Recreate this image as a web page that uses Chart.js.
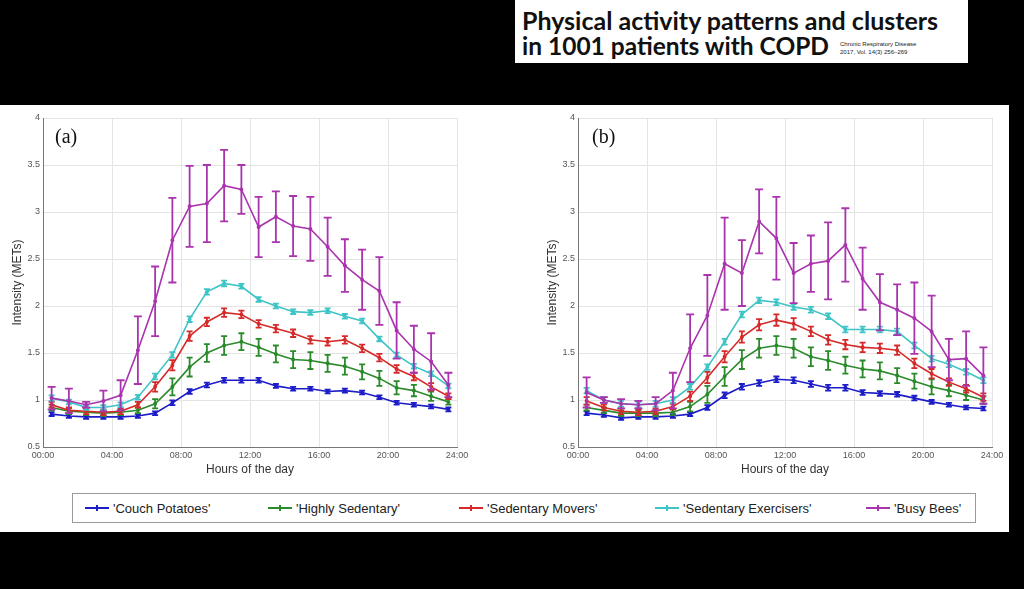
<!DOCTYPE html>
<html><head><meta charset="utf-8">
<script src="https://cdn.jsdelivr.net/npm/chart.js@4.4.1/dist/chart.umd.min.js"></script>
<style>
html,body{margin:0;padding:0;background:#000;width:1024px;height:589px;overflow:hidden;}
#titlebox{position:absolute;left:515px;top:0;width:453px;height:63px;background:#fff;}
#t1,#t2{position:absolute;left:7px;font-family:Lato,"Open Sans",sans-serif;font-weight:700;color:#111;white-space:nowrap;}
#t1{top:5px;font-size:25px;} #t2{top:31px;font-size:24.5px;}
#t3{position:absolute;left:325px;top:40px;font-family:"Liberation Sans",sans-serif;font-size:6px;line-height:8px;color:#222;white-space:nowrap;}
#panel{position:absolute;left:0;top:105px;width:1009px;height:427px;background:#fff;}
canvas{position:absolute;}
.plab{position:absolute;font-family:"Liberation Serif",serif;font-size:20px;color:#111;}
#legend{position:absolute;left:72px;top:388px;width:904px;height:30px;border:1px solid #9a9a9a;box-sizing:border-box;}
.li{position:absolute;top:7px;font-family:"Liberation Sans Narrow","Liberation Sans",sans-serif;font-size:13px;color:#222;white-space:nowrap;}
.ls{position:absolute;top:13px;width:24px;height:2px;}
.lt{position:absolute;top:-2px;left:11px;width:2px;height:6px;}
</style></head>
<body>
<div id="titlebox">
  <div id="t1">Physical activity patterns and clusters</div>
  <div id="t2">in 1001 patients with COPD</div>
  <div id="t3">Chronic Respiratory Disease<br>2017, Vol. 14(3) 256–269</div>
</div>
<div id="panel">
  <canvas id="ca" width="505" height="375" style="left:0;top:0;width:505px;height:375px"></canvas>
  <canvas id="cb" width="474" height="375" style="left:535px;top:0;width:474px;height:375px"></canvas>
  <div class="plab" style="left:55px;top:20px">(a)</div>
  <div class="plab" style="left:592px;top:20px">(b)</div>
  <div id="legend"></div>
</div>
<script>
// x positions (hours, mid-hour bins)
const hours = [0.5,1.5,2.5,3.5,4.5,5.5,6.5,7.5,8.5,9.5,10.5,11.5,12.5,13.5,14.5,15.5,16.5,17.5,18.5,19.5,20.5,21.5,22.5,23.5];
const xTickValues = [0,4,8,12,16,20,24];
const xTickLabels = ['00:00','04:00','08:00','12:00','16:00','20:00','24:00'];
const yTickValues = [0.5,1,1.5,2,2.5,3,3.5,4];
const yTickLabels = ['0.5','1','1.5','2','2.5','3','3.5','4'];
const seriesNames = ["'Couch Potatoes'","'Highly Sedentary'","'Sedentary Movers'","'Sedentary Exercisers'","'Busy Bees'"];
const seriesColors = ['#1c1cc8','#2b8a2b','#d62a2a','#3ec4c6','#a934ad'];

// Panel (a)
const couchA  = [0.85,0.83,0.82,0.82,0.82,0.83,0.86,0.97,1.09,1.16,1.21,1.21,1.21,1.15,1.12,1.12,1.09,1.10,1.08,1.03,0.97,0.95,0.93,0.90];
const highlyA = [0.92,0.88,0.87,0.86,0.87,0.89,0.96,1.14,1.35,1.50,1.58,1.62,1.56,1.49,1.43,1.42,1.39,1.36,1.30,1.23,1.13,1.10,1.04,0.98];
const moversA = [0.95,0.89,0.88,0.87,0.88,0.95,1.14,1.37,1.68,1.83,1.93,1.91,1.81,1.76,1.71,1.64,1.62,1.64,1.55,1.45,1.33,1.25,1.14,1.04];
const exercA  = [1.02,0.98,0.92,0.92,0.95,1.03,1.25,1.48,1.86,2.15,2.24,2.21,2.07,2.00,1.94,1.93,1.95,1.89,1.84,1.65,1.48,1.36,1.28,1.15];
const beesA   = [1.02,0.99,0.95,0.99,1.05,1.53,2.05,2.70,3.06,3.09,3.28,3.24,2.84,2.95,2.85,2.82,2.63,2.43,2.28,2.16,1.74,1.54,1.41,1.16];
const couchErrA  = [0.02,0.02,0.02,0.02,0.02,0.02,0.02,0.025,0.025,0.025,0.025,0.025,0.025,0.02,0.02,0.02,0.02,0.02,0.02,0.02,0.02,0.02,0.02,0.02];
const highlyErrA = [0.03,0.03,0.03,0.03,0.03,0.03,0.05,0.09,0.10,0.095,0.10,0.09,0.09,0.09,0.09,0.09,0.09,0.09,0.08,0.08,0.07,0.06,0.05,0.03];
const moversErrA = [0.03,0.03,0.03,0.03,0.03,0.03,0.05,0.055,0.05,0.045,0.045,0.04,0.04,0.04,0.04,0.04,0.04,0.04,0.04,0.04,0.04,0.04,0.04,0.03];
const exercErrA  = [0.03,0.025,0.025,0.025,0.025,0.025,0.03,0.03,0.03,0.03,0.03,0.025,0.025,0.025,0.025,0.025,0.025,0.025,0.025,0.025,0.025,0.025,0.025,0.025];
const beesErrA   = [0.12,0.13,0.03,0.11,0.16,0.36,0.37,0.45,0.43,0.41,0.38,0.26,0.32,0.27,0.32,0.34,0.31,0.28,0.32,0.36,0.30,0.25,0.30,0.13];

// Panel (b)
const couchB  = [0.86,0.84,0.81,0.82,0.82,0.83,0.85,0.92,1.05,1.14,1.18,1.22,1.21,1.17,1.13,1.13,1.08,1.07,1.06,1.02,0.98,0.95,0.92,0.91];
const highlyB = [0.92,0.89,0.86,0.86,0.86,0.87,0.93,1.06,1.25,1.43,1.55,1.58,1.55,1.46,1.42,1.37,1.33,1.31,1.26,1.20,1.14,1.10,1.05,1.00];
const moversB = [0.99,0.92,0.88,0.87,0.88,0.93,1.04,1.24,1.46,1.67,1.80,1.85,1.81,1.73,1.64,1.59,1.56,1.55,1.53,1.39,1.28,1.19,1.12,1.03];
const exercB  = [1.10,1.00,0.96,0.95,0.96,1.00,1.14,1.35,1.62,1.91,2.06,2.04,1.99,1.96,1.89,1.75,1.75,1.75,1.73,1.58,1.44,1.38,1.30,1.21];
const beesB   = [1.08,1.00,0.96,0.95,0.96,1.10,1.55,1.90,2.45,2.35,2.90,2.72,2.35,2.45,2.48,2.65,2.29,2.04,1.96,1.87,1.73,1.43,1.44,1.26];
const couchErrB  = [0.02,0.02,0.02,0.02,0.02,0.02,0.02,0.025,0.03,0.03,0.03,0.03,0.03,0.03,0.03,0.03,0.025,0.025,0.025,0.025,0.02,0.02,0.02,0.02];
const highlyErrB = [0.03,0.03,0.03,0.03,0.03,0.03,0.05,0.09,0.10,0.10,0.10,0.10,0.10,0.10,0.10,0.09,0.09,0.09,0.08,0.08,0.08,0.06,0.05,0.04];
const moversErrB = [0.04,0.03,0.03,0.03,0.03,0.03,0.05,0.06,0.06,0.06,0.06,0.06,0.06,0.05,0.05,0.05,0.05,0.05,0.05,0.05,0.05,0.04,0.04,0.04];
const exercErrB  = [0.03,0.03,0.03,0.03,0.03,0.03,0.03,0.03,0.03,0.03,0.03,0.03,0.03,0.03,0.03,0.03,0.03,0.03,0.03,0.03,0.03,0.03,0.03,0.03];
const beesErrB   = [0.16,0.03,0.05,0.04,0.07,0.19,0.36,0.43,0.49,0.35,0.34,0.44,0.32,0.30,0.41,0.39,0.33,0.30,0.27,0.38,0.38,0.22,0.29,0.30];

const errorBarPlugin = {
  id: 'errorBars',
  afterDatasetDraw(chart, args) {
    const ds = chart.data.datasets[args.index];
    if (!ds.errors) return;
    const ctx = chart.ctx, xs = chart.scales.x, ys = chart.scales.y;
    ctx.save();
    ctx.strokeStyle = ds.borderColor;
    ctx.lineWidth = 1.8;
    const cap = ds.capHalf || 3;
    ds.data.forEach((p, i) => {
      const e = ds.errors[i];
      const x = xs.getPixelForValue(p.x);
      const y1 = ys.getPixelForValue(p.y + e), y2 = ys.getPixelForValue(p.y - e);
      ctx.beginPath();
      ctx.moveTo(x, y1); ctx.lineTo(x, y2);
      ctx.moveTo(x - cap, y1); ctx.lineTo(x + cap, y1);
      ctx.moveTo(x - cap, y2); ctx.lineTo(x + cap, y2);
      ctx.stroke();
    });
    ctx.restore();
  }
};

function makeChart(id, vals, errs, padRight) {
  const datasets = vals.map((v, k) => ({
    label: seriesNames[k],
    data: v.map((y, i) => ({x: hours[i], y: y})),
    errors: errs[k],
    capHalf: k === 4 ? 4 : 3,
    borderColor: seriesColors[k],
    backgroundColor: seriesColors[k],
    borderWidth: 1.6,
    pointRadius: 1.2,
    pointHoverRadius: 0,
    tension: 0,
    order: 4 - k
  }));
  return new Chart(document.getElementById(id), {
    type: 'line',
    data: {datasets},
    options: {
      responsive: false,
      animation: false,
      events: [],
      layout: {padding: {left: 0, top: 13, right: padRight, bottom: 0}},
      plugins: {legend: {display: false}, tooltip: {enabled: false}},
      scales: {
        x: {
          type: 'linear', min: 0, max: 24,
          afterFit(s) { s.height = 33; },
          afterBuildTicks(s) { s.ticks = xTickValues.map(v => ({value: v})); },
          ticks: {
            callback: (v) => xTickLabels[xTickValues.indexOf(v)],
            font: {family: 'Liberation Sans', size: 9}, color: '#555', padding: 3, maxRotation: 0, autoSkip: false
          },
          grid: {color: '#e4e4e4', lineWidth: 1, drawTicks: false},
          border: {color: '#777', width: 1},
          title: {display: true, text: 'Hours of the day', font: {family: 'Liberation Sans', size: 12}, color: '#333', padding: {top: 0, bottom: 3}}
        },
        y: {
          type: 'linear', min: 0.5, max: 4,
          afterFit(s) { s.width = 43; },
          afterBuildTicks(s) { s.ticks = yTickValues.map(v => ({value: v})); },
          ticks: {
            callback: (v) => yTickLabels[yTickValues.indexOf(v)],
            font: {family: 'Liberation Sans', size: 9}, color: '#555', padding: 3, autoSkip: false
          },
          grid: {color: '#e4e4e4', lineWidth: 1, drawTicks: false},
          border: {color: '#777', width: 1},
          title: {display: true, text: 'Intensity (METs)', font: {family: 'Liberation Sans', size: 12}, color: '#333', padding: {top: 10, bottom: 0}}
        }
      }
    },
    plugins: [errorBarPlugin]
  });
}

makeChart('ca', [couchA, highlyA, moversA, exercA, beesA], [couchErrA, highlyErrA, moversErrA, exercErrA, beesErrA], 48);
makeChart('cb', [couchB, highlyB, moversB, exercB, beesB], [couchErrB, highlyErrB, moversErrB, exercErrB, beesErrB], 17);

// legend
const legendX = [12, 195, 386, 582, 793];
const leg = document.getElementById('legend');
seriesNames.forEach((n, k) => {
  const s = document.createElement('div');
  s.className = 'ls';
  s.style.left = legendX[k] + 'px';
  s.style.background = seriesColors[k];
  const t = document.createElement('div');
  t.className = 'lt';
  t.style.background = seriesColors[k];
  s.appendChild(t);
  leg.appendChild(s);
  const l = document.createElement('div');
  l.className = 'li';
  l.style.left = (legendX[k] + 28) + 'px';
  l.textContent = n;
  leg.appendChild(l);
});
</script>
</body></html>
